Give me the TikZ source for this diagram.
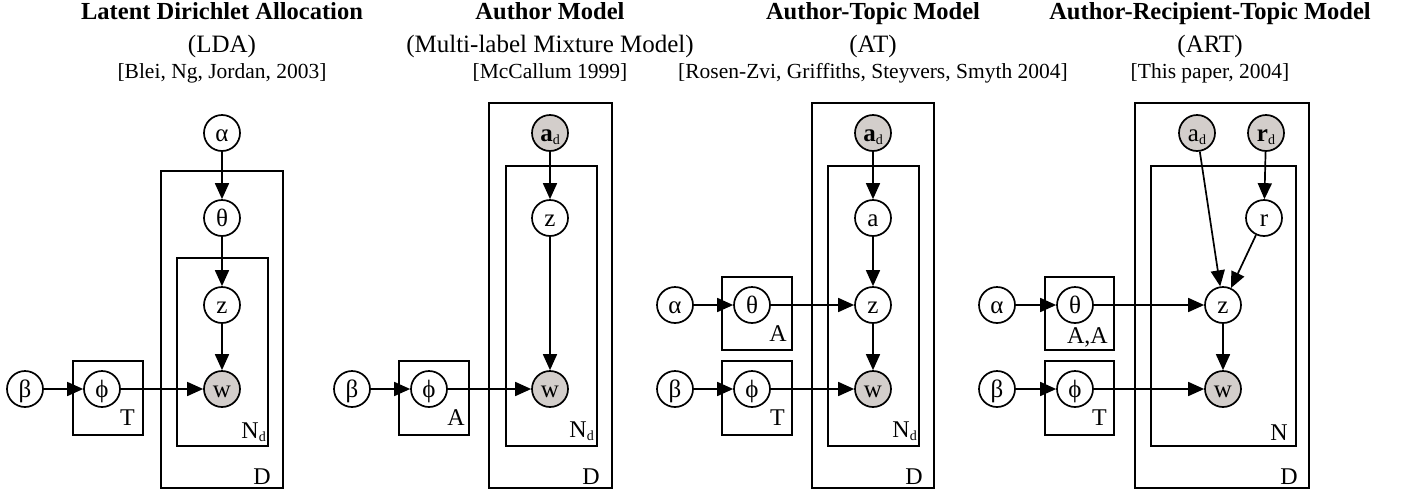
\documentclass[tikz,border=0pt]{standalone}
\usepackage{fontspec}
\setmainfont{Liberation Serif}
\usetikzlibrary{arrows.meta}
\definecolor{obsfill}{RGB}{211,206,203}
\newcommand{\lowsub}[1]{\raisebox{-3pt}{\fontsize{14}{14}\selectfont #1}}
\tikzset{
  rv/.style={circle, draw, line width=1.7pt, minimum size=36pt, inner sep=0pt,
    font=\fontsize{25}{25}\selectfont, text height=18pt, text depth=1pt},
  obsv/.style={rv, fill=obsfill},
  plate/.style={draw, line width=1.9pt},
  platelabel/.style={anchor=base east, inner sep=0pt, font=\fontsize{24}{24}\selectfont},
  edge/.style={line width=1.7pt, -{Triangle[length=16pt,width=14pt]}},
  titletext/.style={anchor=base, inner sep=0pt, font=\fontsize{24.5}{24.5}\selectfont\bfseries},
  subtext/.style={anchor=base, inner sep=0pt, font=\fontsize{25}{25}\selectfont},
  citetext/.style={anchor=base, inner sep=0pt, font=\fontsize{21.5}{21.5}\selectfont},
}
\begin{document}
\begin{tikzpicture}[x=1pt,y=-1pt]
\useasboundingbox (0,0) rectangle (1408,493);

% ---------- titles ----------
\node[titletext] (t1) at (222,19) {Latent Dirichlet Allocation};
\node[subtext]   (s1) at (222,52) {(LDA)};
\node[citetext]  (c1) at (222,78) {[Blei, Ng, Jordan, 2003]};
\node[titletext] (t2) at (550,19) {Author Model};
\node[subtext]   (s2) at (550,52) {(Multi-label Mixture Model)};
\node[citetext]  (c2) at (550,78) {[McCallum 1999]};
\node[titletext] (t3) at (873,19) {Author-Topic Model};
\node[subtext]   (s3) at (873,52) {(AT)};
\node[citetext]  (c3) at (873,78) {[Rosen-Zvi, Griffiths, Steyvers, Smyth 2004]};
\node[titletext] (t4) at (1210,19) {Author-Recipient-Topic Model};
\node[subtext]   (s4) at (1210,52) {(ART)};
\node[citetext]  (c4) at (1210,78) {[This paper, 2004]};

% ---------- LDA ----------
\draw[plate] (161,171) rectangle (283,488);
\draw[plate] (177,258) rectangle (268,446);
\draw[plate] (73,361) rectangle (143,435);
\node[platelabel] (LDl) at (271,484) {D};
\node[platelabel] (LNl) at (266,438) {N\lowsub{d}};
\node[platelabel] (LTl) at (135,425) {T};
\node[rv] (Lalpha) at (222,133) {α};
\node[rv] (Ltheta) at (222,218) {θ};
\node[rv] (Lz) at (222,305) {z};
\node[obsv] (Lw) at (222,389) {w};
\node[rv] (Lbeta) at (25,389) {β};
\node[rv] (Lphi) at (102,389) {ϕ};
\draw[edge] (Lalpha) -- (Ltheta);
\draw[edge] (Ltheta) -- (Lz);
\draw[edge] (Lz) -- (Lw);
\draw[edge] (Lbeta) -- (Lphi);
\draw[edge] (Lphi) -- (Lw);

% ---------- Author Model ----------
\draw[plate] (489,103) rectangle (612,488);
\draw[plate] (506,166) rectangle (597,446);
\draw[plate] (399,361) rectangle (469,435);
\node[platelabel] (MDl) at (600,484) {D};
\node[platelabel] (MNl) at (594,437) {N\lowsub{d}};
\node[platelabel] (MAl) at (465,425) {A};
\node[obsv] (Mad) at (550,133) {\textbf{a}\lowsub{d}};
\node[rv] (Mz) at (550,218) {z};
\node[obsv] (Mw) at (550,389) {w};
\node[rv] (Mbeta) at (352,389) {β};
\node[rv] (Mphi) at (429,389) {ϕ};
\draw[edge] (Mad) -- (Mz);
\draw[edge] (Mz) -- (Mw);
\draw[edge] (Mbeta) -- (Mphi);
\draw[edge] (Mphi) -- (Mw);

% ---------- AT ----------
\draw[plate] (812,103) rectangle (934,488);
\draw[plate] (828,166) rectangle (919,446);
\draw[plate] (722,277) rectangle (792,350);
\draw[plate] (722,361) rectangle (792,435);
\node[platelabel] (TDl) at (923,484) {D};
\node[platelabel] (TNl) at (917,437) {N\lowsub{d}};
\node[platelabel] (TAl) at (787,341) {A};
\node[platelabel] (TTl) at (785,425) {T};
\node[obsv] (Tad) at (873,133) {\textbf{a}\lowsub{d}};
\node[rv] (Ta) at (873,218) {a};
\node[rv] (Tz) at (873,305) {z};
\node[obsv] (Tw) at (873,389) {w};
\node[rv] (Talpha) at (675,305) {α};
\node[rv] (Ttheta) at (752,305) {θ};
\node[rv] (Tbeta) at (675,389) {β};
\node[rv] (Tphi) at (752,389) {ϕ};
\draw[edge] (Tad) -- (Ta);
\draw[edge] (Ta) -- (Tz);
\draw[edge] (Tz) -- (Tw);
\draw[edge] (Talpha) -- (Ttheta);
\draw[edge] (Ttheta) -- (Tz);
\draw[edge] (Tbeta) -- (Tphi);
\draw[edge] (Tphi) -- (Tw);

% ---------- ART ----------
\draw[plate] (1135,103) rectangle (1309,488);
\draw[plate] (1151,166) rectangle (1296,446);
\draw[plate] (1045,277) rectangle (1114,350);
\draw[plate] (1045,361) rectangle (1114,435);
\node[platelabel] (RDl) at (1298,484) {D};
\node[platelabel] (RNl) at (1288,440) {N};
\node[platelabel] (RAl) at (1108,343) {A,A};
\node[platelabel] (RTl) at (1107,425) {T};
\node[obsv] (Rad) at (1197,133) {a\lowsub{d}};
\node[obsv] (Rrd) at (1266,133) {\textbf{r}\lowsub{d}};
\node[rv] (Rr) at (1264,218) {r};
\node[rv] (Rz) at (1223,305) {z};
\node[obsv] (Rw) at (1223,389) {w};
\node[rv] (Ralpha) at (997,305) {α};
\node[rv] (Rtheta) at (1075,305) {θ};
\node[rv] (Rbeta) at (997,389) {β};
\node[rv] (Rphi) at (1075,389) {ϕ};
\draw[edge] (Rad) -- (Rz);
\draw[edge] (Rrd) -- (Rr);
\draw[edge] (Rr) -- (Rz);
\draw[edge] (Rz) -- (Rw);
\draw[edge] (Ralpha) -- (Rtheta);
\draw[edge] (Rtheta) -- (Rz);
\draw[edge] (Rbeta) -- (Rphi);
\draw[edge] (Rphi) -- (Rw);
\end{tikzpicture}
\end{document}
